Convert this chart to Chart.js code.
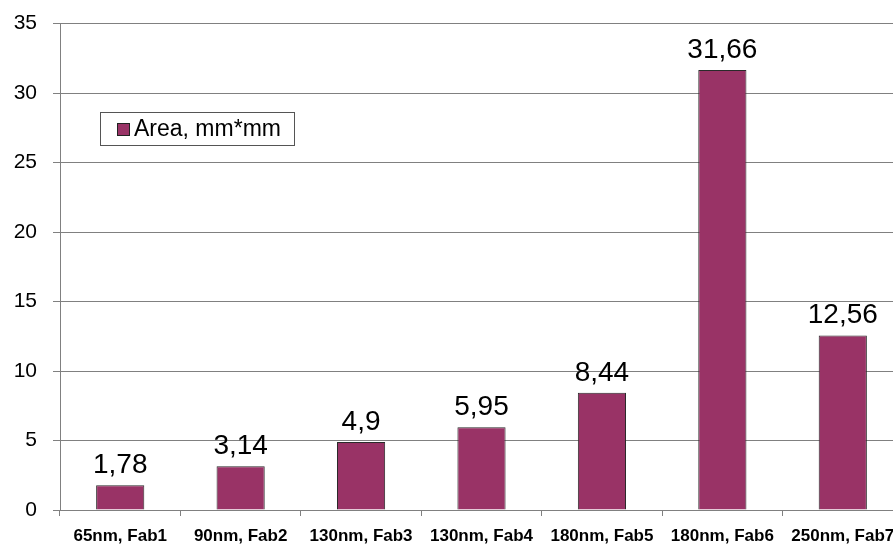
<!DOCTYPE html>
<html>
<head>
<meta charset="utf-8">
<script src="https://cdn.jsdelivr.net/npm/chart.js@4/dist/chart.umd.min.js"></script>
<style>
  html, body { margin: 0; padding: 0; background: #fff; overflow: hidden; }
  #wrap { width: 905px; height: 549px; margin-top: -5px; }
</style>
</head>
<body>
<div id="wrap"><canvas id="chart" width="905" height="549"></canvas></div>
<script>
// ---------- Data ----------
const categories = ['65nm, Fab1', '90nm, Fab2', '130nm, Fab3', '130nm, Fab4', '180nm, Fab5', '180nm, Fab6', '250nm, Fab7'];
const areaValues = [1.78, 3.14, 4.9, 5.95, 8.44, 31.66, 12.56];
const seriesLabel = 'Area, mm*mm';
const yTicks = [0, 5, 10, 15, 20, 25, 30, 35];

const FONT = "'Liberation Sans', Arial, sans-serif";
const BAR = '#993366';
const GRID = '#808080';

// value labels above each bar, comma as decimal separator
const valueLabels = {
  id: 'valueLabels',
  afterDatasetsDraw(chart) {
    const ctx = chart.ctx;
    const meta = chart.getDatasetMeta(0);
    ctx.save();
    ctx.font = '28px ' + FONT;
    ctx.fillStyle = '#000';
    ctx.textAlign = 'center';
    ctx.textBaseline = 'alphabetic';
    meta.data.forEach((bar, i) => {
      const txt = String(areaValues[i]).replace('.', ',');
      ctx.fillText(txt, bar.x, bar.y - 12);
    });
    ctx.restore();
  }
};

// boxed legend inside the plot area (canvas is shifted up 5px by CSS)
const boxLegend = {
  id: 'boxLegend',
  afterDraw(chart) {
    const ctx = chart.ctx;
    ctx.save();
    ctx.translate(0, 5);
    ctx.fillStyle = '#fff';
    ctx.fillRect(100, 112, 195, 34);
    ctx.strokeStyle = '#555';
    ctx.lineWidth = 1;
    ctx.strokeRect(100.5, 112.5, 194, 33);
    ctx.fillStyle = BAR;
    ctx.fillRect(117, 123, 13, 13);
    ctx.strokeStyle = '#222';
    ctx.strokeRect(117.5, 123.5, 12, 12);
    ctx.fillStyle = '#000';
    ctx.font = '23px ' + FONT;
    ctx.textBaseline = 'middle';
    ctx.fillText(seriesLabel, 134, 130);
    ctx.restore();
  }
};

new Chart(document.getElementById('chart'), {
  type: 'bar',
  data: {
    labels: categories,
    datasets: [{
      label: seriesLabel,
      data: areaValues,
      backgroundColor: BAR,
      borderColor: '#2a2a2a',
      borderWidth: 1,
      barPercentage: 0.4,
      categoryPercentage: 1
    }]
  },
  options: {
    responsive: false,
    animation: false,
    layout: { padding: { top: 8, right: 2, left: 0, bottom: 0 } },
    plugins: {
      legend: { display: false },
      tooltip: { enabled: false }
    },
    scales: {
      x: {
        offset: true,
        grid: {
          offset: true,
          drawOnChartArea: false,
          drawTicks: true,
          tickLength: 6,
          color: GRID
        },
        border: { display: true, color: GRID },
        ticks: {
          color: '#000',
          padding: 10,
          maxRotation: 0,
          autoSkip: false,
          font: { family: FONT, size: 17, weight: 'bold' }
        },
        afterFit(axis) { axis.height = 34; }
      },
      y: {
        min: 0,
        max: 35,
        afterBuildTicks(axis) { axis.ticks = yTicks.map(v => ({ value: v })); },
        grid: {
          color: GRID,
          drawTicks: true,
          tickLength: 7
        },
        border: { display: true, color: GRID },
        ticks: {
          color: '#000',
          padding: 16,
          font: { family: FONT, size: 21 }
        },
        afterFit(axis) { axis.width = 60; }
      }
    }
  },
  plugins: [valueLabels, boxLegend]
});
</script>
</body>
</html>
